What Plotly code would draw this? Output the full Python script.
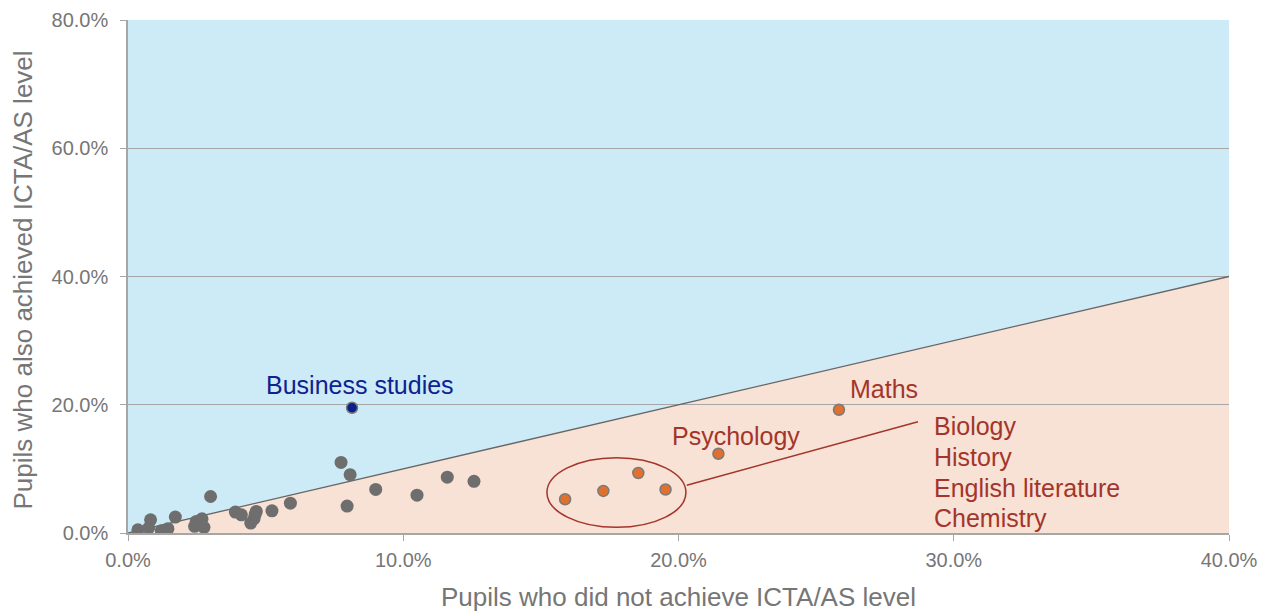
import plotly.graph_objects as go

# Other subjects (grey)
other_x = [0.36, 0.82, 0.75, 1.21, 1.45, 1.72, 2.42, 2.48, 2.69, 2.76, 3.0, 3.9, 4.12,
           4.46, 4.58, 4.66, 4.62, 5.23, 5.9, 7.74, 8.07, 7.96, 9.0, 10.5, 11.6, 12.57]
other_y = [0.5, 2.06, 0.78, 0.36, 0.67, 2.48, 1.04, 1.81, 2.22, 0.88, 5.69, 3.26, 2.84,
           1.55, 2.22, 3.36, 2.9, 3.46, 4.65, 11.0, 9.1, 4.2, 6.8, 5.9, 8.7, 8.06]

# Highlighted subjects (orange)
hl_names = ["Chemistry", "English literature", "Biology", "History", "Psychology", "Maths"]
hl_x = [15.88, 17.27, 18.54, 19.53, 21.45, 25.83]
hl_y = [5.27, 6.56, 9.35, 6.78, 12.36, 19.22]

# Business studies (blue)
bs_x = [8.14]
bs_y = [19.53]

# Parity line y = x
diag_x = [0, 40]
diag_y = [0, 40]

x_ticks = [0, 10, 20, 30, 40]
y_ticks = [0, 20, 40, 60, 80]

label_red = "#A3352B"
navy = "#0E2290"
grey_txt = "#767676"

fig = go.Figure()

fig.add_trace(go.Scatter(x=diag_x, y=diag_y, mode="lines",
                         line=dict(color="#666666", width=1.3), hoverinfo="skip"))
fig.add_trace(go.Scatter(x=other_x, y=other_y, mode="markers",
                         marker=dict(size=13, color="#6E6E6E")))
fig.add_trace(go.Scatter(x=hl_x, y=hl_y, mode="markers", text=hl_names,
                         marker=dict(size=11, color="#E0702C",
                                     line=dict(color="#7A7A7A", width=1.5))))
fig.add_trace(go.Scatter(x=bs_x, y=bs_y, mode="markers", text=["Business studies"],
                         marker=dict(size=11, color="#0A1E8C",
                                     line=dict(color="#7A7A7A", width=1.5))))

# peach region below parity line
fig.add_shape(type="path",
              path=f"M {diag_x[0]},{diag_y[0]} L {diag_x[1]},{diag_y[1]} L {diag_x[1]},{diag_y[0]} Z",
              fillcolor="#F8E1D5", line=dict(width=0), layer="below")

# ellipse around cluster and leader line
fig.add_shape(type="circle", x0=15.22, x1=20.27, y0=0.88, y1=11.74,
              line=dict(color=label_red, width=1.5))
fig.add_shape(type="line", x0=20.3, y0=7.44, x1=28.7, y1=17.36,
              line=dict(color=label_red, width=1.5))

fsz = 25
fig.add_annotation(x=8.43, y=23.1, text="Business studies", showarrow=False,
                   font=dict(size=fsz, color=navy), xanchor="center", yanchor="middle")
fig.add_annotation(x=26.16, y=22.5, text="Maths", showarrow=False,
                   font=dict(size=fsz, color=label_red), xanchor="left", yanchor="middle")
fig.add_annotation(x=19.69, y=15.2, text="Psychology", showarrow=False,
                   font=dict(size=fsz, color=label_red), xanchor="left", yanchor="middle")
for name, yy in zip(["Biology", "History", "English literature", "Chemistry"],
                    [16.7, 11.8, 7.0, 2.3]):
    fig.add_annotation(x=29.2, y=yy, text=name, showarrow=False,
                       font=dict(size=fsz, color=label_red), xanchor="left", yanchor="middle")

# axis titles
fig.add_annotation(xref="paper", yref="paper", x=0.5, y=0, yshift=-64,
                   text="Pupils who did not achieve ICTA/AS level", showarrow=False,
                   font=dict(size=26, color=grey_txt), xanchor="center", yanchor="middle")
fig.add_annotation(xref="paper", yref="paper", x=0, y=0.5, xshift=-106, yshift=-4,
                   text="Pupils who also achieved ICTA/AS level", showarrow=False, textangle=-90,
                   font=dict(size=26, color=grey_txt), xanchor="center", yanchor="middle")

fig.update_layout(
    width=1264, height=606,
    margin=dict(l=120, r=43, t=12, b=81, autoexpand=False),
    paper_bgcolor="white",
    plot_bgcolor="#CCEBF6",
    showlegend=False,
    font=dict(family="Liberation Sans, Arial, sans-serif", color=grey_txt),
    xaxis=dict(range=[0, 40], tickvals=x_ticks, ticktext=[f"{v:.1f}%" for v in x_ticks],
               showgrid=False, zeroline=False, showline=True, linecolor="#A6A6A6", linewidth=1.5,
               ticks="outside", ticklen=6, tickcolor="#A6A6A6", ticklabelstandoff=2,
               ticklabeloverflow="allow", automargin=False,
               tickfont=dict(size=20, color=grey_txt)),
    yaxis=dict(range=[0, 80], tickvals=y_ticks, ticktext=[f"{v:.1f}%" for v in y_ticks],
               showgrid=True, gridcolor="#A6A6A6", gridwidth=1.2, zeroline=False,
               showline=True, linecolor="#A6A6A6", linewidth=1.5,
               ticks="outside", ticklen=6, tickcolor="#A6A6A6", ticklabelstandoff=8,
               ticklabeloverflow="allow", automargin=False,
               tickfont=dict(size=20, color=grey_txt)),
)

fig.write_html("out.html")
